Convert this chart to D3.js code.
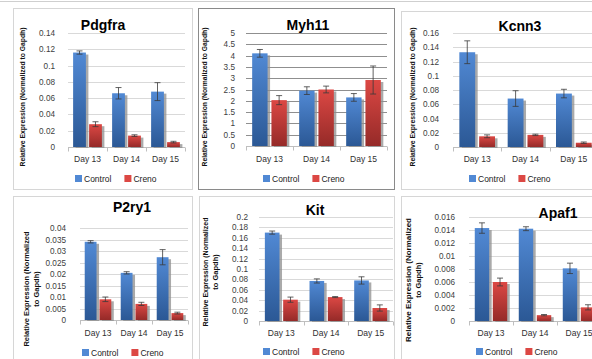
<!DOCTYPE html>
<html>
<head>
<meta charset="utf-8">
<script src="https://cdn.jsdelivr.net/npm/d3@7"></script>
<style>
  body { margin: 0; background: #fff; }
  svg { display: block; font-family: "Liberation Sans", Arial, sans-serif; }
</style>
</head>
<body>
<svg id="chart" width="592" height="359"></svg>
<script>
/* global d3 */
// values
const days = ['Day 13', 'Day 14', 'Day 15'];
const seriesNames = ['Control', 'Creno'];
const genes = ['Pdgfra', 'Myh11', 'Kcnn3', 'P2ry1', 'Kit', 'Apaf1'];

const controlValues = [
  [0.116, 0.066, 0.068],
  [4.1, 2.45, 2.15],
  [0.133, 0.068, 0.075],
  [0.034, 0.0205, 0.0273],
  [0.17, 0.077, 0.078],
  [0.0143, 0.0142, 0.0081],
];
const controlErrors = [
  [0.002, 0.007, 0.011],
  [0.17, 0.17, 0.17],
  [0.016, 0.011, 0.006],
  [0.0005, 0.0005, 0.0033],
  [0.003, 0.004, 0.007],
  [0.0008, 0.0003, 0.0008],
];
const crenoValues = [
  [0.028, 0.014, 0.006],
  [2.03, 2.5, 2.92],
  [0.015, 0.017, 0.006],
  [0.009, 0.007, 0.003],
  [0.041, 0.046, 0.025],
  [0.006, 0.0009, 0.0021],
];
const crenoErrors = [
  [0.003, 0.001, 0.001],
  [0.2, 0.15, 0.62],
  [0.002, 0.001, 0.001],
  [0.001, 0.0007, 0.0004],
  [0.005, 0.001, 0.006],
  [0.0006, 0.0001, 0.0004],
];
const yTicks = [
  [0, 0.02, 0.04, 0.06, 0.08, 0.1, 0.12, 0.14],
  [0, 0.5, 1, 1.5, 2, 2.5, 3, 3.5, 4, 4.5, 5],
  [0, 0.02, 0.04, 0.06, 0.08, 0.1, 0.12, 0.14, 0.16],
  [0, 0.005, 0.01, 0.015, 0.02, 0.025, 0.03, 0.035, 0.04],
  [0, 0.02, 0.04, 0.06, 0.08, 0.1, 0.12, 0.14, 0.16, 0.18, 0.2],
  [0, 0.002, 0.004, 0.006, 0.008, 0.01, 0.012, 0.014, 0.016],
];
const yLabelLines = [
  ['Relative Expression (Normalized to Gapdh)'],
  ['Relative Expression (Normalized to Gapdh)'],
  ['Relative Expression (Normalized to Gapdh)'],
  ['Relative Expression (Normalized', 'to Gapdh)'],
  ['Relative Expression (Normalized', 'to Gapdh)'],
  ['Relative Expression (Normalized', 'to Gapdh)'],
];

// panel layout
const panels = [
  { box: [13, 8, 192, 189], x: [68, 185], y: [147, 33], title: [103, 30], lab: [25, 97, 139], tickX: 55, dayY: 162, legY: 179, legX: 75 },
  { box: [198, 8, 394, 189], x: [246, 387], y: [146, 33], title: [308, 30], lab: [207, 97, 139], tickX: 235, dayY: 162, legY: 179, legX: 263, dark: true },
  { box: [401, 11, 600, 189], x: [453, 598], y: [147, 33], title: [520, 31], lab: [415, 97, 139], tickX: 439, dayY: 162, legY: 179, legX: 469 },
  { box: [13, 196, 192, 365], x: [80, 188], y: [320, 228], title: [132, 212], lab: [29, 289, 115], tickX: 66, dayY: 336, legY: 353, legX: 82 },
  { box: [199, 196, 394, 365], x: [259, 393], y: [321, 217], title: [315, 215], lab: [208, 272, 109], tickX: 248, dayY: 336, legY: 352, legX: 263 },
  { box: [401, 196, 600, 365], x: [469, 601], y: [321, 217], title: [558, 218], lab: [411, 280, 124], tickX: 455, dayY: 336, legY: 352, legX: 476 },
];

const colors = {
  Control: ['#5189d4', '#2b5895'],
  Creno: ['#dc4844', '#952a28'],
};

const svg = d3.select('#chart');
svg.append('rect').attr('width', 592).attr('height', 359).attr('fill', '#fff');

const defs = svg.append('defs');
seriesNames.forEach(function (s) {
  let g = defs.append('linearGradient')
    .attr('id', 'grad' + s)
    .attr('x1', 0).attr('y1', 0).attr('x2', 0).attr('y2', 1);
  g.append('stop').attr('offset', '0%').attr('stop-color', colors[s][0]);
  g.append('stop').attr('offset', '100%').attr('stop-color', colors[s][1]);
});

// outer frame line
svg.append('line')
  .attr('x1', 0).attr('x2', 592).attr('y1', 1.5).attr('y2', 1.5)
  .attr('stroke', '#cfcfcf');

function fmt(v) {
  return String(+v.toFixed(4));
}

genes.forEach(function (gene, i) {
  let p = panels[i];
  let g = svg.append('g');
  let b = p.box;

  g.append('rect')
    .attr('x', b[0] + 0.5).attr('y', b[1] + 0.5)
    .attr('width', b[2] - b[0]).attr('height', b[3] - b[1])
    .attr('fill', '#fff')
    .attr('stroke', p.dark ? '#8a8a8a' : '#d6d6d6');

  let ticks = yTicks[i];
  let y = d3.scaleLinear().domain([0, ticks[ticks.length - 1]]).range(p.y);
  let x = d3.scaleBand().domain(days).range(p.x);
  let xs = d3.scaleBand().domain(seriesNames).range([0, x.bandwidth()])
    .paddingInner(0.2).paddingOuter(0.32);

  // gridlines
  g.selectAll('.grid').data(ticks.slice(1)).enter().append('line')
    .attr('x1', p.x[0]).attr('x2', p.x[1])
    .attr('y1', (d) => Math.round(y(d)) + 0.5).attr('y2', (d) => Math.round(y(d)) + 0.5)
    .attr('stroke', p.dark ? '#8f8f8f' : '#d9d9d9')
    .attr('stroke-width', 1);

  // tick labels
  g.selectAll('.tl').data(ticks).enter().append('text')
    .attr('x', p.tickX).attr('y', (d) => y(d) + 3)
    .attr('text-anchor', 'end')
    .attr('font-size', 8.2).attr('fill', '#404040')
    .text(fmt);

  // category axis
  let base = Math.round(y(0)) + 0.5;
  g.append('line')
    .attr('x1', p.x[0]).attr('x2', p.x[1]).attr('y1', base).attr('y2', base)
    .attr('stroke', '#bfbfbf');
  let bounds = days.map((d) => x(d)).concat([p.x[1]]);
  g.selectAll('.xt').data(bounds).enter().append('line')
    .attr('x1', (d) => Math.round(d) + 0.5).attr('x2', (d) => Math.round(d) + 0.5)
    .attr('y1', base).attr('y2', base + 4)
    .attr('stroke', '#bfbfbf');
  g.selectAll('.dl').data(days).enter().append('text')
    .attr('x', (d) => x(d) + x.bandwidth() / 2).attr('y', p.dayY)
    .attr('text-anchor', 'middle')
    .attr('font-size', 8.5).attr('fill', '#303030')
    .text((d) => d);

  // bars
  let rows = [];
  days.forEach(function (d, j) {
    rows.push({ day: d, s: 'Control', v: controlValues[i][j], e: controlErrors[i][j] });
    rows.push({ day: d, s: 'Creno', v: crenoValues[i][j], e: crenoErrors[i][j] });
  });
  let bw = xs.bandwidth();

  g.selectAll('.shadow').data(rows).enter().append('rect')
    .attr('x', (d) => x(d.day) + xs(d.s) + 2.5)
    .attr('y', (d) => y(d.v) + 2)
    .attr('width', bw)
    .attr('height', (d) => Math.max(0, y(0) - y(d.v) - 1))
    .attr('fill', '#8d8d8d').attr('opacity', 0.75);

  g.selectAll('.bar').data(rows).enter().append('rect')
    .attr('x', (d) => x(d.day) + xs(d.s))
    .attr('y', (d) => y(d.v))
    .attr('width', bw)
    .attr('height', (d) => y(0) - y(d.v))
    .attr('fill', (d) => 'url(#grad' + d.s + ')');

  // error bars
  let eb = g.selectAll('.err').data(rows).enter().append('g')
    .attr('stroke', '#3a3a3a').attr('stroke-width', 0.8);
  eb.append('line')
    .attr('x1', (d) => x(d.day) + xs(d.s) + bw / 2).attr('x2', (d) => x(d.day) + xs(d.s) + bw / 2)
    .attr('y1', (d) => y(d.v + d.e)).attr('y2', (d) => y(Math.max(0, d.v - d.e)));
  eb.append('line')
    .attr('x1', (d) => x(d.day) + xs(d.s) + bw / 2 - 3).attr('x2', (d) => x(d.day) + xs(d.s) + bw / 2 + 3)
    .attr('y1', (d) => y(d.v + d.e)).attr('y2', (d) => y(d.v + d.e));
  eb.append('line')
    .attr('x1', (d) => x(d.day) + xs(d.s) + bw / 2 - 3).attr('x2', (d) => x(d.day) + xs(d.s) + bw / 2 + 3)
    .attr('y1', (d) => y(Math.max(0, d.v - d.e))).attr('y2', (d) => y(Math.max(0, d.v - d.e)));

  // title
  g.append('text')
    .attr('x', p.title[0]).attr('y', p.title[1])
    .attr('text-anchor', 'middle')
    .attr('font-size', 14).attr('font-weight', 'bold').attr('fill', '#000')
    .text(gene);

  // y label
  let lines = yLabelLines[i];
  lines.forEach(function (t, k) {
    let lx = p.lab[0] + k * 10;
    let txt = g.append('text')
      .attr('transform', `translate(${lx},${p.lab[1]}) rotate(-90)`)
      .attr('text-anchor', 'middle')
      .attr('font-size', 7.5).attr('font-weight', 'bold').attr('fill', '#111')
      .text(t);
    if (k === 0) {
      txt.attr('textLength', p.lab[2]).attr('lengthAdjust', 'spacingAndGlyphs');
    }
  });

  // legend
  let lg = g.append('g').attr('transform', `translate(${p.legX},${p.legY})`);
  let lx = 0;
  seriesNames.forEach(function (s) {
    lg.append('rect').attr('x', lx).attr('y', -4).attr('width', 7).attr('height', 7)
      .attr('fill', colors[s][0]);
    let t = lg.append('text').attr('x', lx + 9).attr('y', 3)
      .attr('font-size', 8.5).attr('fill', '#222').text(s);
    lx += 9 + t.node().getComputedTextLength() + 13;
  });
});
</script>
</body>
</html>
